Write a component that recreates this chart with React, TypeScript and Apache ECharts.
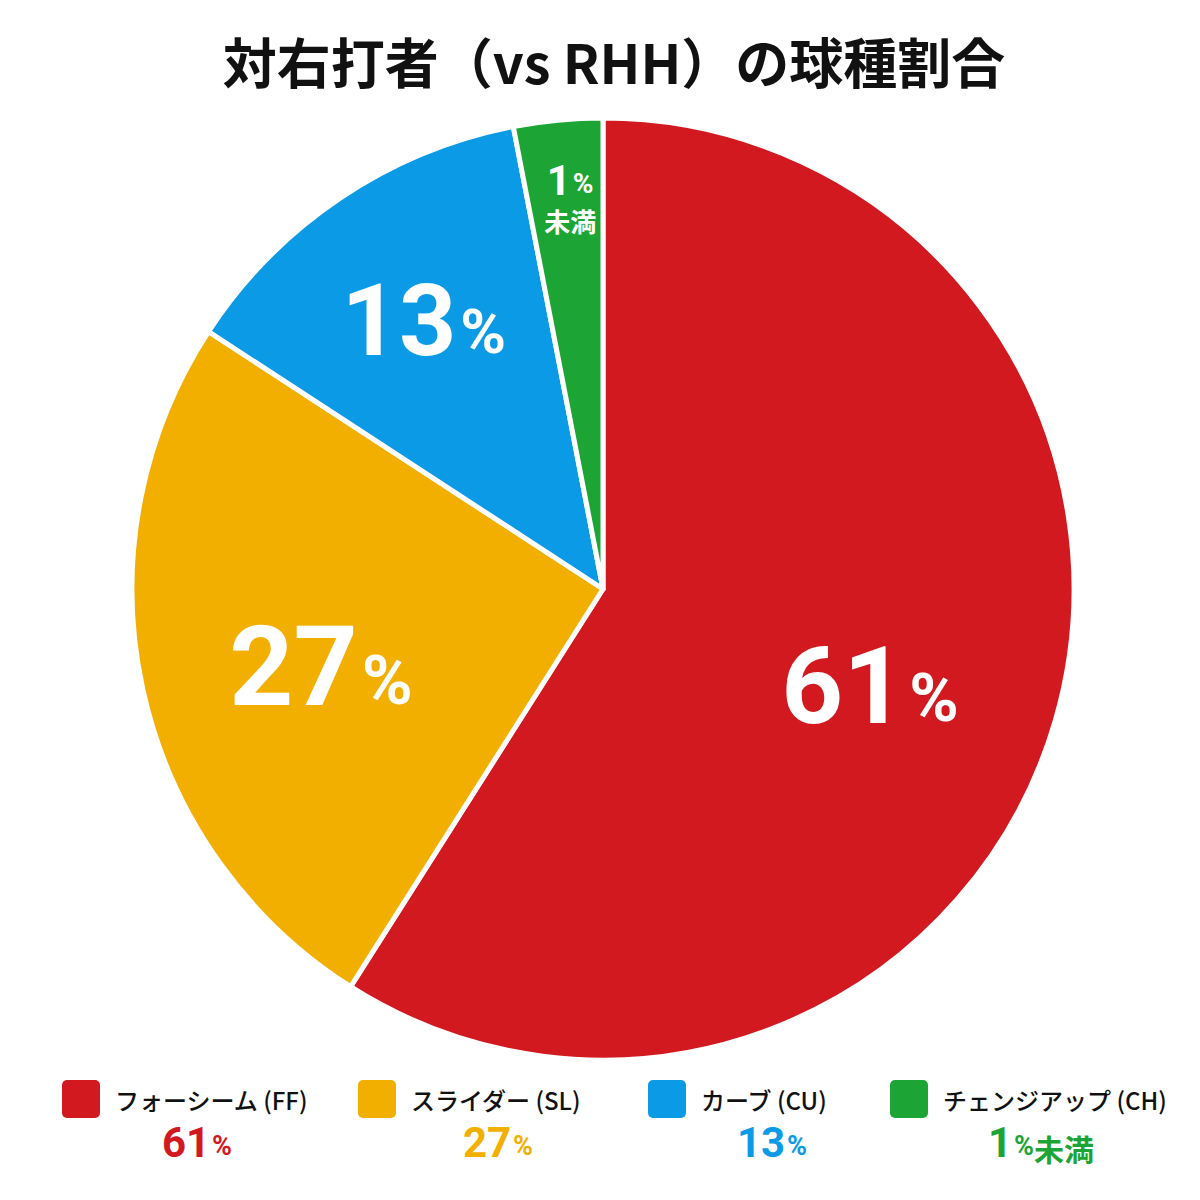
import React, { useEffect, useRef } from "react";
import * as echarts from "echarts";

// ---- data ----
const categories = ["フォーシーム (FF)", "スライダー (SL)", "カーブ (CU)", "チェンジアップ (CH)"];
// slice shares as drawn in the picture
const sliceShares = [59.0, 25.2, 12.75, 3.05];
// labelled values
const labelNumbers = ["61", "27", "13", "1"];
const labelSuffixes = ["", "", "", "未満"];
const colors = ["#D2191F", "#F3AF00", "#0B9BE6", "#1CA535"];
const title = "対右打者（vs RHH）の球種割合";

// ---- layout ----
const CX = 603;
const CY = 589;
const R = 471;
const labelOffsets = [
  [38, 30],
  [-49, 27],
  [-46, -71],
  [-10, -155],
];
const bigSizes = [108, 112, 100];
const legendSquareX = [62, 358, 648, 890];
const legendValueCX = [197, 498, 772, 1041];
const LEG_Y = 1080;
const FONT = 'Roboto, "Noto Sans CJK JP", sans-serif';
const JFONT = '"Noto Sans CJK JP", Roboto, sans-serif';

export default function App() {
  const ref = useRef<HTMLDivElement>(null);
  useEffect(() => {
    document.body.style.margin = "0";
    if (!ref.current) return;
    const chart = echarts.init(ref.current, undefined, { renderer: "svg" });

    const data = categories.map((name, i) => {
      const isSmall = labelSuffixes[i] !== "";
      const fs = bigSizes[i] || 100;
      return {
        name,
        value: sliceShares[i],
        itemStyle: { color: colors[i] },
        label: {
          show: true,
          position: "inside",
          offset: labelOffsets[i],
          color: "#fff",
          formatter: isSmall
            ? `{s|${labelNumbers[i]}}{sp|%}\n{m|${labelSuffixes[i]}}`
            : `{n|${labelNumbers[i]}}{p|%}`,
          rich: {
            n: { fontFamily: FONT, fontWeight: 700, fontSize: fs, color: "#fff", verticalAlign: "bottom", lineHeight: fs },
            p: { fontFamily: FONT, fontWeight: 700, fontSize: Math.round(fs * 0.62), color: "#fff", verticalAlign: "bottom", lineHeight: Math.round(fs * 0.62), padding: [0, 0, 8, 4] },
            s: { fontFamily: FONT, fontWeight: 700, fontSize: 42, color: "#fff", verticalAlign: "bottom", lineHeight: 42 },
            sp: { fontFamily: FONT, fontWeight: 700, fontSize: 28, color: "#fff", verticalAlign: "bottom", lineHeight: 28, padding: [0, 0, 4, 2] },
            m: { fontFamily: JFONT, fontWeight: 700, fontSize: 26, color: "#fff", lineHeight: 32, verticalAlign: "bottom" },
          },
        },
      };
    });

    const graphics: any[] = [
      {
        type: "text",
        x: 614,
        y: 60,
        style: {
          text: title,
          font: `700 54px ${JFONT}`,
          fill: "#111",
          textAlign: "center",
          textVerticalAlign: "middle",
        },
      },
    ];
    categories.forEach((name, i) => {
      graphics.push({
        type: "rect",
        shape: { x: legendSquareX[i], y: LEG_Y, width: 38, height: 38, r: 5 },
        style: { fill: colors[i] },
      });
      graphics.push({
        type: "text",
        x: legendSquareX[i] + 53,
        y: LEG_Y + 19,
        style: {
          text: name,
          font: `500 24px ${JFONT}`,
          fill: "#111",
          textAlign: "left",
          textVerticalAlign: "middle",
        },
      });
      const suf = labelSuffixes[i];
      graphics.push({
        type: "text",
        x: legendValueCX[i],
        y: 1142,
        style: {
          text: `{n|${labelNumbers[i]}}{p|%}` + (suf ? `{m|${suf}}` : ""),
          align: "center",
          verticalAlign: "middle",
          rich: {
            n: { fontFamily: FONT, fontWeight: 700, fontSize: 42, fill: colors[i], verticalAlign: "bottom", lineHeight: 42 },
            p: { fontFamily: FONT, fontWeight: 700, fontSize: 27, fill: colors[i], verticalAlign: "bottom", lineHeight: 27, padding: [0, 0, 4, 2] },
            m: { fontFamily: JFONT, fontWeight: 700, fontSize: 30, fill: colors[i], verticalAlign: "bottom", lineHeight: 42 },
          },
        },
      });
    });

    chart.setOption({
      animation: false,
      backgroundColor: "#ffffff",
      graphic: graphics,
      series: [
        {
          type: "pie",
          center: [CX, CY],
          radius: [0, R],
          startAngle: 90,
          clockwise: true,
          silent: true,
          labelLine: { show: false },
          itemStyle: { borderColor: "#ffffff", borderWidth: 5 },
          data,
        },
      ],
    });
    return () => chart.dispose();
  }, []);
  return <div ref={ref} style={{ width: 1200, height: 1200 }} />;
}
